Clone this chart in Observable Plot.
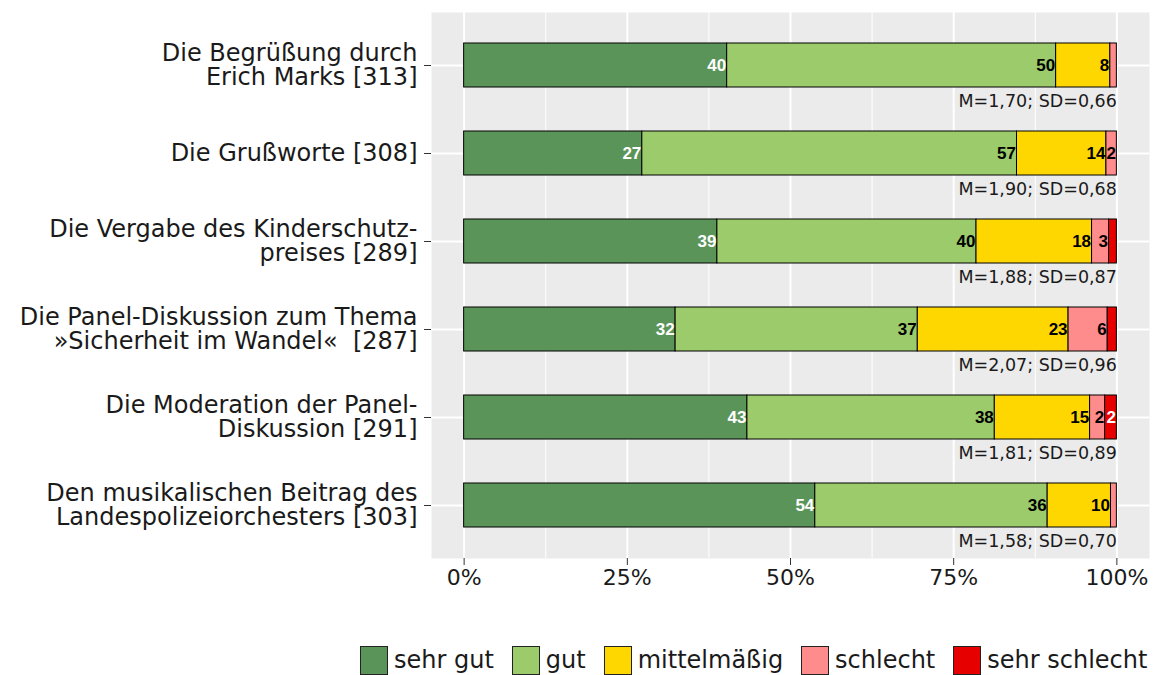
<!DOCTYPE html>
<html><head><meta charset="utf-8">
<script src="https://cdn.jsdelivr.net/npm/d3@7"></script>
<script src="https://cdn.jsdelivr.net/npm/@observablehq/plot@0.6"></script>
<style>
body{margin:0;background:#fff;font-family:"DejaVu Sans",sans-serif;}
#wrap{position:relative;width:1170px;height:675px;}
#legend{position:absolute;left:360px;top:645px;height:30px;display:flex;align-items:center;gap:18px;}
.item{display:flex;align-items:center;}
.sw{width:26px;height:27px;border:1px solid #222;margin-right:6px;}
.lt{line-height:30px;font-size:24px;color:#1a1a1a;white-space:nowrap;}
</style></head><body>
<div id="wrap"><div id="chart"></div><div id="legend"></div></div>
<script>
const categories = [
  "Die Begrüßung durch\nErich Marks [313]",
  "Die Grußworte [308]",
  "Die Vergabe des Kinderschutz-\npreises [289]",
  "Die Panel-Diskussion zum Thema\n»Sicherheit im Wandel« \u00a0[287]",
  "Die Moderation der Panel-\nDiskussion [291]",
  "Den musikalischen Beitrag des\nLandespolizeiorchesters [303]"
];
const levels = ["sehr gut", "gut", "mittelmäßig", "schlecht", "sehr schlecht"];
const colors = ["#5B9459", "#9CCB6B", "#FFD700", "#FF8C8C", "#E60000"];
const sehrGut      = [40.3, 27.3, 38.8, 32.4, 43.4, 53.8];
const gut          = [50.4, 57.4, 39.7, 37.1, 37.9, 35.6];
const mittelmaessig= [8.3, 13.7, 17.7, 23.1, 14.6, 9.7];
const schlecht     = [1.0, 1.6, 2.6, 6.0, 2.3, 0.9];
const sehrSchlecht = [0, 0, 1.2, 1.4, 1.8, 0];
const stats = ["M=1,70; SD=0,66", "M=1,90; SD=0,68", "M=1,88; SD=0,87", "M=2,07; SD=0,96", "M=1,81; SD=0,89", "M=1,58; SD=0,70"];
const xTicks = [0, 25, 50, 75, 100];
const xMinor = [12.5, 37.5, 62.5, 87.5];

const series = [sehrGut, gut, mittelmaessig, schlecht, sehrSchlecht];
const rows = [];
categories.forEach((c, i) => {
  let acc = 0;
  series.forEach((s, j) => {
    const v = s[i];
    rows.push({cat: c, level: levels[j], x1: acc, x2: acc + v, v});
    acc += v;
  });
});
const labelRows = rows.filter(d => Math.round(d.v) >= 2);
const statRows = categories.map((c, i) => ({cat: c, stat: stats[i]}));

const chart = Plot.plot({
  width: 1170, height: 600,
  marginLeft: 431, marginRight: 21, marginTop: 12, marginBottom: 42,
  style: {fontFamily: "DejaVu Sans", background: "white", overflow: "visible"},
  x: {domain: [-5, 105]},
  y: {domain: categories, paddingInner: 0.5, paddingOuter: 0.35},
  color: {domain: levels, range: colors},
  marks: [
    Plot.frame({fill: "#EBEBEB", stroke: null}),
    Plot.ruleX(xMinor, {stroke: "white", strokeWidth: 1, strokeOpacity: 1}),
    Plot.ruleX(xTicks, {stroke: "white", strokeWidth: 2, strokeOpacity: 1}),
    Plot.ruleY(categories, {stroke: "white", strokeWidth: 2, strokeOpacity: 1}),
    Plot.barX(rows, {x1: "x1", x2: "x2", y: "cat", fill: "level", stroke: "black", strokeWidth: 1}),
    Plot.text(labelRows, {
      x: "x2", y: "cat", text: d => String(Math.round(d.v)), textAnchor: "end", dx: -1,
      fill: d => (d.level === "sehr gut" || d.level === "sehr schlecht") ? "white" : "black",
      fontWeight: "bold", fontSize: 17, fontFamily: "Liberation Sans, Arial, sans-serif"
    }),
    Plot.text(statRows, {x: 100, y: "cat", text: "stat", textAnchor: "end", dy: 36, fontSize: 17.5, fill: "#1a1a1a"}),
    Plot.axisX({ticks: xTicks, tickFormat: d => d + "%", fontSize: 22, tickSize: 7, tickPadding: 4, label: null, stroke: "#333", fill: "#1a1a1a"}),
    Plot.axisY({fontSize: 24, tickSize: 7, tickPadding: 7, label: null, lineHeight: 1, stroke: "#333", fill: "#1a1a1a"})
  ]
});
document.getElementById("chart").appendChild(chart);

const legend = document.getElementById("legend");
levels.forEach((l, i) => {
  const item = document.createElement("div");
  item.className = "item";
  const sw = document.createElement("div");
  sw.className = "sw"; sw.style.background = colors[i];
  const t = document.createElement("div");
  t.className = "lt"; t.textContent = l;
  item.appendChild(sw); item.appendChild(t);
  legend.appendChild(item);
});
</script>
</body></html>
